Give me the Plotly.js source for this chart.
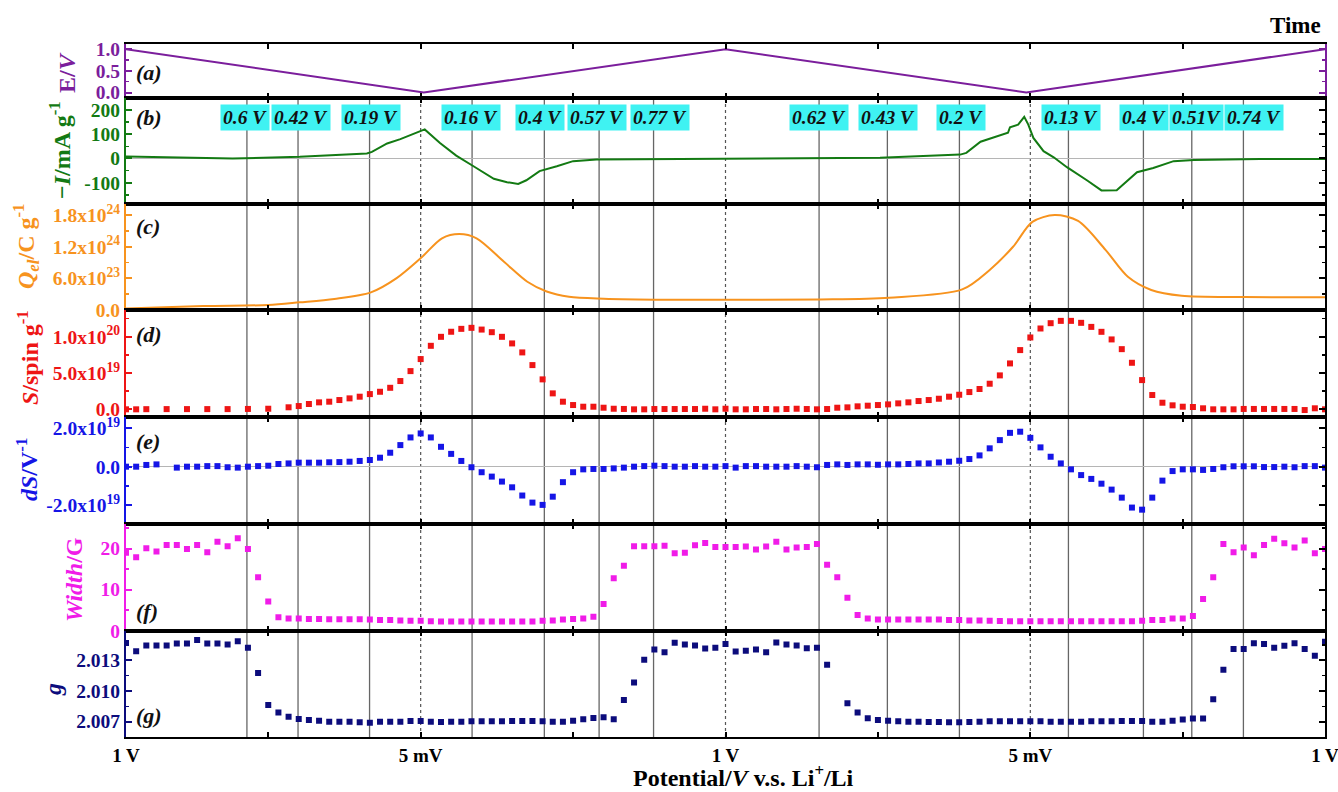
<!DOCTYPE html>
<html>
<head>
<meta charset="utf-8">
<script src="https://cdn.plot.ly/plotly-3.0.1.min.js"></script>
<style>html,body{margin:0;padding:0;background:#fff;}#chart{width:1338px;height:792px;}</style>
</head>
<body>
<div id="chart"></div>
<script>
// ---------------- DATA ----------------
// x axis: measurement number (each EPR spectrum), ticks labelled with the potential
const xTickVals = [0, 14, 29, 44, 59, 74, 89, 104, 118];
const xTickText = ['1 V', '', '5 mV', '', '1 V', '', '5 mV', '', '1 V'];

// (a) potential programme
const eTime = [0, 29.3, 59, 88.6, 118];
const eVolt = [1.0, 0.0, 1.0, 0.0, 1.0];

// (b) current  -I / mA g^-1
const iTime = [0, 5.3, 10.5, 17.1, 21.1, 23.7, 24.2, 25.7, 27.0, 27.95, 29.4, 30.9, 32.5, 34.2, 36.2, 37.5, 38.6, 39.4, 40.7, 42.4, 44.0, 46.3, 52.6, 59, 68.2, 74.2, 82.1, 82.7, 84.1, 85.4, 86.8, 87.0, 87.8, 88.4, 88.8, 89.3, 90.3, 91.3, 92.6, 94.6, 96.0, 97.5, 98.5, 99.5, 101.1, 103.1, 105.1, 111.6, 118];
const iCurr = [8, 3, 0, 7, 14, 21, 27, 62, 80, 95, 120, 64, 12, -32, -84, -98, -105, -90, -52, -32, -11, -4, -2, 0, 2, 3, 16, 23, 69, 88, 106, 129, 140, 172, 140, 85, 30, 5, -36, -91, -132, -131, -94, -57, -39, -11, -6, -2, -2];

// (c) charge Q_el / C g^-1
const qTime = [0, 7.6, 14.0, 17.1, 20.5, 24.1, 26.6, 29.1, 31.1, 32.8, 34.5, 37.2, 39.5, 41.4, 43.6, 47.0, 53.1, 68.3, 75.1, 82.3, 85.0, 87.3, 89.2, 91.4, 93.7, 96.4, 98.6, 100.9, 103.9, 110.0, 118];
const qCharge = [0.03e24, 0.076e24, 0.095e24, 0.146e24, 0.21e24, 0.335e24, 0.60e24, 1.0e24, 1.36e24, 1.44e24, 1.36e24, 0.915e24, 0.536e24, 0.35e24, 0.25e24, 0.214e24, 0.195e24, 0.20e24, 0.233e24, 0.39e24, 0.76e24, 1.2e24, 1.67e24, 1.80e24, 1.69e24, 1.14e24, 0.63e24, 0.38e24, 0.27e24, 0.246e24, 0.24e24];

// measurement numbers of the EPR spectra (panels d-g)
const spectrumNo = [];
for (let k = 0; k <= 118; k++) spectrumNo.push(k);

// (d) spin number S (units of 1e19 spin g^-1)
const spin_e19 = [0.0, 0.0, 0.02, null, 0.03, null, 0.03, null, 0.03, null, 0.03, null, 0.05, null, 0.08, null, 0.28, 0.45, 0.73, 0.96,
  1.05, 1.28, 1.51, 1.74, 2.1, 2.42, 2.97, 3.9, 5.27, 6.93, 8.76, 10.0, 10.7, 11.1, 11.24, 11.0, 10.64, 10.0, 9.09, 7.85,
  6.1, 4.13, 2.2, 1.05, 0.59, 0.36, 0.36, 0.22, 0.08, 0.05, 0.0, 0.0, 0.04, 0.04, 0.04, 0.04, 0.04, 0.08, 0.0, 0.08,
  0.0, 0.0, 0.04, 0.04, 0.0, 0.04, 0.08, 0.04, 0.0, 0.04, 0.22, 0.27, 0.41, 0.5, 0.59, 0.68, 0.82, 0.96, 1.14, 1.28,
  1.46, 1.74, 2.01, 2.38, 2.8, 3.53, 4.68, 6.33, 8.17, 9.91, 11.15, 11.88, 12.2, 12.2, 11.93, 11.37, 10.69, 9.64, 8.3, 6.42,
  4.03, 1.97, 0.91, 0.55, 0.36, 0.32, 0.14, 0.0, 0.0, 0.0, 0.05, 0.05, 0.05, 0.05, 0.05, 0.05, -0.1, 0.14, 0.0];

// (e) dS/dV (units of 1e19 V^-1)
const dSdV_e19 = [0.0, 0.0, 0.09, 0.12, null, -0.05, 0.0, 0.0, 0.03, 0.03, -0.03, -0.05, 0.0, 0.03, 0.05, 0.14, 0.17, 0.21, 0.21, 0.21,
  0.23, 0.24, 0.26, 0.3, 0.35, 0.47, 0.73, 1.13, 1.53, 1.74, 1.53, 1.04, 0.67, 0.3, -0.03, -0.29, -0.52, -0.78, -1.08, -1.51,
  -1.88, -2.0, -1.57, -0.81, -0.29, -0.14, -0.12, -0.12, -0.09, -0.05, 0.0, 0.03, 0.05, 0.03, 0.0, 0.0, 0.03, 0.0, 0.0, 0.03,
  -0.05, 0.03, 0.03, 0.0, 0.0, 0.0, 0.03, 0.0, -0.03, 0.09, 0.12, 0.09, 0.12, 0.12, 0.1, 0.12, 0.12, 0.14, 0.17, 0.17,
  0.22, 0.26, 0.31, 0.4, 0.59, 0.96, 1.39, 1.77, 1.83, 1.51, 1.01, 0.52, 0.17, -0.14, -0.44, -0.64, -0.89, -1.2, -1.62, -2.14,
  -2.25, -1.62, -0.73, -0.23, -0.14, -0.14, -0.17, -0.12, -0.03, 0.02, 0.02, 0.02, -0.02, -0.02, 0.0, -0.03, 0.03, 0.03, -0.05];

// (f) line width / G
const widthG = [19.0, 17.9, 20.1, 19.3, 20.9, 20.9, 19.9, 20.9, 19.1, 21.7, 20.6, 22.5, 19.9, 13.0, 7.1, 3.25, 3.0, 2.95, 2.85, 2.85,
  2.8, 2.8, 2.8, 2.8, 2.7, 2.6, 2.6, 2.5, 2.4, 2.4, 2.3, 2.27, 2.27, 2.27, 2.27, 2.27, 2.27, 2.27, 2.27, 2.27,
  2.27, 2.4, 2.5, 2.7, 2.85, 3.0, 3.4, 6.5, 12.8, 15.8, 20.6, 20.6, 20.6, 20.7, 18.9, 19.0, 20.8, 21.4, 20.4, 20.4,
  20.4, 20.5, 19.8, 20.5, 21.7, 19.8, 20.3, 20.4, 21.1, 16.1, 13.0, 8.0, 3.8, 3.0, 2.75, 2.75, 2.75, 2.75, 2.7, 2.7,
  2.7, 2.6, 2.6, 2.5, 2.5, 2.4, 2.35, 2.3, 2.3, 2.3, 2.3, 2.3, 2.3, 2.3, 2.3, 2.3, 2.3, 2.3, 2.3, 2.3,
  2.4, 2.6, 2.6, 3.0, 3.0, 3.6, 7.7, 13.0, 21.1, 19.1, 20.3, 18.4, 20.9, 22.4, 21.3, 20.3, 22.0, 18.9, 19.9];

// (g) g-factor
const gFactor = [2.0147, 2.0139, 2.01445, 2.01445, 2.01445, 2.01464, 2.01464, 2.0150, 2.01464, 2.01464, 2.01454, 2.01487, 2.01422, 2.01176, 2.00864, 2.00789, 2.00749, 2.00727, 2.00717, 2.0071,
  2.007, 2.007, 2.007, 2.00694, 2.0069, 2.007, 2.007, 2.007, 2.00707, 2.00707, 2.007, 2.00697, 2.007, 2.007, 2.00704, 2.00704, 2.00704, 2.00704, 2.00707, 2.00707,
  2.00707, 2.00704, 2.007, 2.007, 2.0071, 2.00723, 2.00736, 2.00743, 2.00723, 2.00913, 2.01084, 2.01307, 2.01405, 2.01379, 2.01471, 2.01454, 2.01445, 2.01415, 2.01422, 2.01461,
  2.01386, 2.01395, 2.01405, 2.01379, 2.01474, 2.01454, 2.01445, 2.01418, 2.01422, 2.01258, null, 2.00881, 2.00789, 2.00733, 2.00717, 2.0071, 2.00704, 2.007, 2.007, 2.00697,
  2.00697, 2.00694, 2.00694, 2.00697, 2.007, 2.00704, 2.00704, 2.00704, 2.00704, 2.00704, 2.00704, 2.007, 2.007, 2.007, 2.007, 2.00704, 2.00704, 2.00704, 2.00707, 2.00707,
  2.00707, 2.007, 2.007, 2.0071, 2.0072, 2.0073, 2.0073, 2.0092, 2.01208, 2.01412, 2.01412, 2.01467, 2.01461, 2.01422, 2.01442, 2.01467, 2.01412, 2.01346, 2.01481];

// reference potentials marked by vertical lines
const markLines = [11.9, 16.93, 23.97, 34.06, 41.17, 46.56, 51.92, 68.21, 74.93, 82.02, 92.75, 100.13, 104.89, 109.97];
const markLabels = ['0.6 V', '0.42 V', '0.19 V', '0.16 V', '0.4 V', '0.57 V', '0.77 V', '0.62 V', '0.43 V', '0.2 V', '0.13 V', '0.4 V', '0.51V', '0.74 V'];
const markLabelPos = [11.7, 17.2, 24.1, 34.0, 40.7, 46.4, 52.6, 68.2, 75.0, 82.2, 93.0, 100.2, 105.4, 111.0];
const turnLines = [29, 59, 89];

// ---------------- STYLE / LAYOUT ----------------
const FONT = 'Liberation Serif, Times New Roman, serif';
const C = {
  a: '#7B1E9C', b: '#137A13', c: '#F7931E', d: '#EE1515',
  e: '#1515E6', f: '#F01CE8', g: '#0C0C7C'
};
const L = 126, R = 1325, T = 44, B = 737;
const px2x = p => (p - L) / (R - L);
const py2y = p => (B - p) / (B - T);
const bounds = [44, 97.7, 204, 310, 417, 524, 630.7, 737];
const dom = k => [py2y(bounds[k + 1]), py2y(bounds[k])];

const panels = [
  {key: 'a', range: [-0.12, 1.12], tv: [0, 0.5, 1.0], tt: ['0.0', '0.5', '1.0'], mv: [0.25, 0.75], zero: false},
  {key: 'b', range: [-188, 251], tv: [-100, 0, 100, 200], tt: ['-100', '0', '100', '200'], mv: [-150, -50, 50, 150], zero: true},
  {key: 'c', range: [0, 2.01e24], tv: [0, 6e23, 1.2e24, 1.8e24], tt: ['0.0', '6.0x10<sup>23</sup>', '1.2x10<sup>24</sup>', '1.8x10<sup>24</sup>'], mv: [3e23, 9e23, 1.5e24], zero: false},
  {key: 'd', range: [-1.06, 13.7], tv: [0, 5, 10], tt: ['0.0', '5.0x10<sup>19</sup>', '1.0x10<sup>20</sup>'], mv: [2.5, 7.5, 12.5], zero: false},
  {key: 'e', range: [-3.0, 2.6], tv: [-2, 0, 2], tt: ['-2.0x10<sup>19</sup>', '0.0', '2.0x10<sup>19</sup>'], mv: [-1, 1], zero: true},
  {key: 'f', range: [0, 26], tv: [0, 10, 20], tt: ['0', '10', '20'], mv: [5, 15, 25], zero: false},
  {key: 'g', range: [2.0055, 2.0159], tv: [2.007, 2.010, 2.013], tt: ['2.007', '2.010', '2.013'], mv: [2.0085, 2.0115, 2.0145], zero: false}
];

const traces = [
  {x: eTime, y: eVolt, mode: 'lines', line: {color: C.a, width: 2}, xaxis: 'x', yaxis: 'y'},
  {x: iTime, y: iCurr, mode: 'lines', line: {color: C.b, width: 2}, xaxis: 'x2', yaxis: 'y2'},
  {x: qTime, y: qCharge, mode: 'lines', line: {color: C.c, width: 2, shape: 'spline', smoothing: 0.85}, xaxis: 'x3', yaxis: 'y3'},
  {x: spectrumNo, y: spin_e19, mode: 'markers', marker: {symbol: 'square', size: 6, color: C.d}, xaxis: 'x4', yaxis: 'y4'},
  {x: spectrumNo, y: dSdV_e19, mode: 'markers', marker: {symbol: 'square', size: 6, color: C.e}, xaxis: 'x5', yaxis: 'y5'},
  {x: spectrumNo, y: widthG, mode: 'markers', marker: {symbol: 'square', size: 6, color: C.f}, xaxis: 'x6', yaxis: 'y6'},
  {x: spectrumNo, y: gFactor, mode: 'markers', marker: {symbol: 'square', size: 6, color: C.g}, xaxis: 'x7', yaxis: 'y7'}
];
traces.forEach(t => { t.showlegend = false; t.hoverinfo = 'x+y'; t.connectgaps = false; });

const layout = {
  width: 1338, height: 792, autosize: false,
  margin: {l: L, r: 1338 - R, t: T, b: 792 - B, pad: 0},
  paper_bgcolor: '#fff', plot_bgcolor: 'rgba(0,0,0,0)',
  showlegend: false,
  font: {family: FONT, size: 19, color: '#000'},
  shapes: [], annotations: []
};

panels.forEach((p, k) => {
  const n = k + 1;
  const sx = n === 1 ? '' : String(n);
  const col = C[p.key];
  layout['xaxis' + sx] = {
    domain: [0, 1], range: [0, 118], anchor: 'y' + sx,
    matches: n === 1 ? undefined : 'x',
    showline: true, mirror: 'ticks', linecolor: '#000', linewidth: 2,
    ticks: 'inside', ticklen: 5, tickwidth: 2, tickcolor: '#000',
    tickmode: 'array', tickvals: xTickVals,
    ticktext: xTickText.map(s => s ? '<b>' + s + '</b>' : ''),
    showticklabels: n === 7, ticklabeloverflow: 'allow',
    tickfont: {family: FONT, size: 19, color: '#000'},
    showgrid: false, zeroline: false
  };
  layout['yaxis' + sx] = {
    domain: dom(k), range: p.range, anchor: 'x' + sx,
    showline: true, linecolor: col, linewidth: 2,
    ticks: 'inside', ticklen: 6, tickwidth: 2, tickcolor: col,
    tickmode: 'array', tickvals: p.tv, ticktext: p.tt.map(s => '<b>' + s + '</b>'),
    tickfont: {family: FONT, size: 19.5, color: col},
    minor: {tickmode: 'array', tickvals: p.mv, ticks: 'inside', ticklen: 3, tickwidth: 1.5, tickcolor: col, showgrid: false},
    showgrid: false,
    zeroline: p.zero, zerolinecolor: '#b5b5b5', zerolinewidth: 1.2
  };
  // right-hand frame with mirrored ticks
  const rn = 'yaxis' + (n + 7);
  const rc = n === 1 ? col : '#000';
  layout[rn] = {
    overlaying: 'y' + sx, side: 'right', anchor: 'x' + sx, range: p.range,
    showline: true, linecolor: rc, linewidth: 2,
    ticks: 'inside', ticklen: 6, tickwidth: 2, tickcolor: rc,
    tickmode: 'array', tickvals: p.tv, showticklabels: false,
    minor: {tickmode: 'array', tickvals: p.mv, ticks: 'inside', ticklen: 3, tickwidth: 1.5, tickcolor: rc},
    showgrid: false, zeroline: false
  };
  traces.push({x: [], y: [], xaxis: 'x' + sx, yaxis: 'y' + (n + 7), showlegend: false, hoverinfo: 'skip', mode: 'lines'});
});

// vertical marker lines
const topB = py2y(bounds[1]);
markLines.forEach(v => layout.shapes.push({
  type: 'line', xref: 'x', yref: 'paper', x0: v, x1: v, y0: 0, y1: topB,
  line: {color: '#666', width: 1.3}, layer: 'below'
}));
turnLines.forEach(v => layout.shapes.push({
  type: 'line', xref: 'x', yref: 'paper', x0: v, x1: v, y0: 0, y1: topB,
  line: {color: '#555', width: 1.2, dash: '3px,3px'}, layer: 'below'
}));

// cyan potential labels
markLabels.forEach((t, k) => layout.annotations.push({
  x: markLabelPos[k], xref: 'x', y: py2y(118), yref: 'paper',
  text: '<b><i>' + t + '</i></b>', showarrow: false,
  bgcolor: '#3FF2F2', borderpad: 2,
  font: {family: FONT, size: 19.5, color: '#111'}, xanchor: 'center', yanchor: 'middle'
}));

// panel letters
const letterY = [72, 118, 226, 334, 441, 611, 715];
['(a)', '(b)', '(c)', '(d)', '(e)', '(f)', '(g)'].forEach((t, k) => layout.annotations.push({
  x: px2x(134), xref: 'paper', y: py2y(letterY[k]), yref: 'paper',
  text: '<b><i>' + t + '</i></b>', showarrow: false, xanchor: 'left', yanchor: 'middle',
  font: {family: FONT, size: 22, color: '#111'}
}));

// y titles
const yTitles = [
  {t: 'E/<i>V</i>', x: 67, y: 73},
  {t: '\u2212<i>I</i>/mA g<sup>-1</sup>', x: 60, y: 150},
  {t: '<i>Q<sub>el</sub></i>/C g<sup>-1</sup>', x: 26, y: 247},
  {t: '<i>S</i>/spin g<sup>-1</sup>', x: 28, y: 358},
  {t: '<i>dS</i>/V<sup>-1</sup>', x: 27, y: 470},
  {t: '<i>Width</i>/G', x: 74, y: 580},
  {t: '<i>g</i>', x: 53, y: 690}
];
yTitles.forEach((o, k) => layout.annotations.push({
  x: px2x(o.x), xref: 'paper', y: py2y(o.y), yref: 'paper',
  text: '<b>' + o.t + '</b>', textangle: -90, showarrow: false,
  xanchor: 'center', yanchor: 'middle',
  font: {family: FONT, size: 24, color: C[panels[k].key]}
}));

// x title and "Time"
layout.annotations.push({
  x: px2x(743), xref: 'paper', y: py2y(776), yref: 'paper',
  text: '<b>Potential/<i>V</i> v.s. Li<sup>+</sup>/Li</b>', showarrow: false,
  xanchor: 'center', yanchor: 'middle', font: {family: FONT, size: 24, color: '#000'}
});
layout.annotations.push({
  x: px2x(1295), xref: 'paper', y: py2y(26), yref: 'paper',
  text: '<b>Time</b>', showarrow: false,
  xanchor: 'center', yanchor: 'middle', font: {family: FONT, size: 23, color: '#000'}
});

Plotly.newPlot('chart', traces, layout, {staticPlot: true, displayModeBar: false});
</script>
</body>
</html>
